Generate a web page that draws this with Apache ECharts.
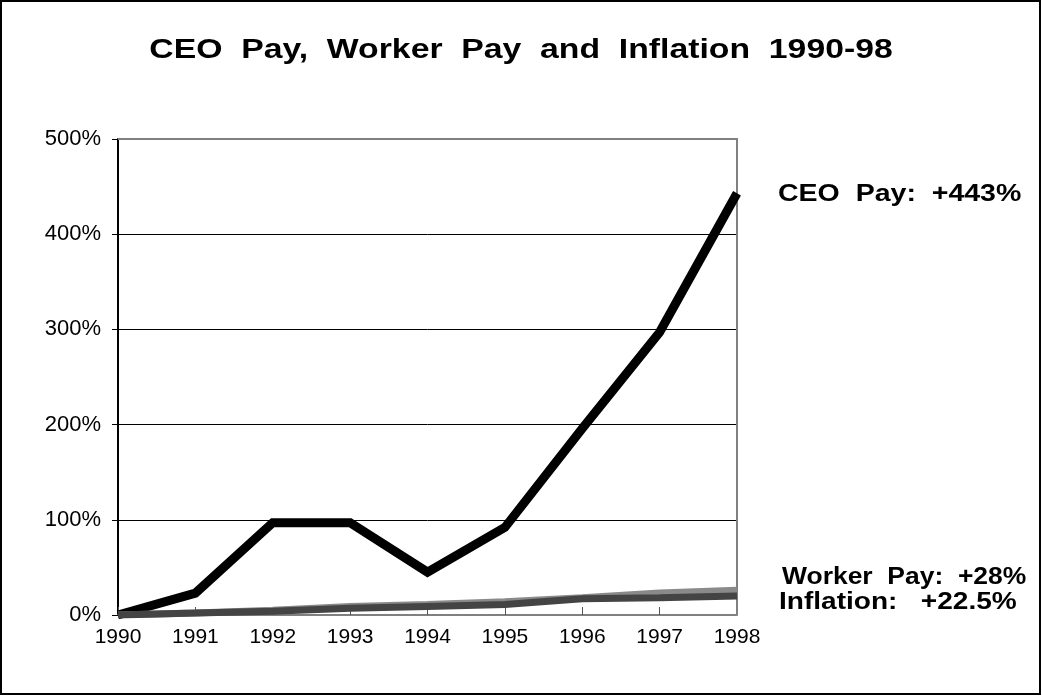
<!DOCTYPE html>
<html>
<head>
<meta charset="utf-8">
<script src="https://cdn.jsdelivr.net/npm/echarts@6/dist/echarts.min.js"></script>
<style>
  html, body { margin: 0; padding: 0; background: #fff; }
  #chart { width: 1042px; height: 696px; }
</style>
</head>
<body>
<div id="chart"></div>
<script>
// years on the x axis
var years = ['1990', '1991', '1992', '1993', '1994', '1995', '1996', '1997', '1998'];
// cumulative change since 1990, in percent
var ceoPay = [0, 23, 97, 97, 45, 92, 196, 297, 443];
var workerPay = [0, 2, 5, 9, 11, 14, 18, 23, 26];
var inflation = [0, 2, 4, 7, 9, 11, 17, 18, 20];
var yTicks = [0, 100, 200, 300, 400, 500];

var chart = echarts.init(document.getElementById('chart'));
var font = 'Liberation Sans, Arial, sans-serif';

var option = {
  backgroundColor: '#fff',
  animation: false,
  grid: { left: 118, right: 305, top: 139, bottom: 81 },
  xAxis: {
    type: 'category',
    boundaryGap: false,
    data: years,
    axisLine: { lineStyle: { color: '#808080', width: 2 } },
    axisTick: { inside: true, length: 8, lineStyle: { color: '#555' } },
    axisLabel: { fontFamily: font, fontSize: 21, color: '#000', margin: 12 },
    splitLine: { show: false }
  },
  yAxis: {
    type: 'value',
    min: 0,
    max: 500,
    interval: 100,
    axisLine: { show: true, lineStyle: { color: '#000', width: 2 } },
    axisTick: { show: true, length: 6, lineStyle: { color: '#000' } },
    axisLabel: {
      fontFamily: font, fontSize: 22, color: '#000', margin: 17,
      formatter: function (v) { return yTicks.indexOf(v) >= 0 ? v + '%' : ''; }
    },
    splitLine: { show: true, lineStyle: { color: '#000', width: 1 } }
  },
  series: [
    {
      name: 'CEO Pay', type: 'line', data: ceoPay, symbol: 'none',
      lineStyle: { color: '#000', width: 9, join: 'miter' }, z: 3
    },
    {
      name: 'Worker Pay', type: 'line', data: workerPay, symbol: 'none',
      lineStyle: { color: '#8a8a8a', width: 7 }, z: 4
    },
    {
      name: 'Inflation', type: 'line', data: inflation, symbol: 'none',
      lineStyle: { color: '#444', width: 7 }, z: 5
    }
  ],
  graphic: [
    {
      type: 'rect', silent: true, z: 0,
      shape: { x: 1, y: 1, width: 1039, height: 693 },
      style: { fill: 'none', stroke: '#000', lineWidth: 2 }
    },
    {
      // top and right border of the plot area
      type: 'polyline', silent: true, z: 1,
      shape: { points: [[118, 139], [737, 139], [737, 615]] },
      style: { fill: 'none', stroke: '#808080', lineWidth: 2 }
    },
    {
      type: 'text', x: 521, y: 51, scaleX: 1.25,
      style: {
        text: 'CEO  Pay,  Worker  Pay  and  Inflation  1990-98',
        font: 'bold 27px ' + font, fill: '#000', align: 'center', verticalAlign: 'middle'
      }
    },
    {
      type: 'text', x: 778, y: 195, scaleX: 1.24,
      style: { text: 'CEO  Pay:  +443%', font: 'bold 23px ' + font, fill: '#000', verticalAlign: 'middle' }
    },
    {
      type: 'text', x: 782, y: 578, scaleX: 1.15,
      style: { text: 'Worker  Pay:  +28%', font: 'bold 23px ' + font, fill: '#000', verticalAlign: 'middle' }
    },
    {
      type: 'text', x: 779, y: 603, scaleX: 1.22,
      style: { text: 'Inflation:   +22.5%', font: 'bold 23px ' + font, fill: '#000', verticalAlign: 'middle' }
    }
  ]
};

chart.setOption(option);
</script>
</body>
</html>
